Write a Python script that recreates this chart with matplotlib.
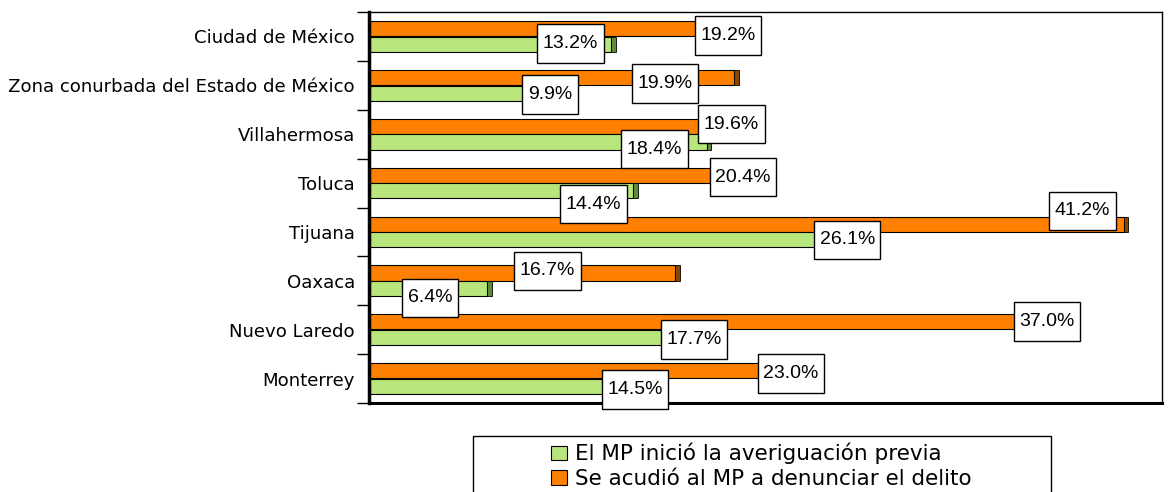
import numpy as np
import matplotlib
matplotlib.use("Agg")
import matplotlib.pyplot as plt
from matplotlib.path import Path
from matplotlib.patches import Rectangle

plt.rcParams['font.family'] = ['Liberation Sans', 'DejaVu Sans']

# data (percent), top row first
ciudades = ['Ciudad de México', 'Zona conurbada del Estado de México', 'Villahermosa',
            'Toluca', 'Tijuana', 'Oaxaca', 'Nuevo Laredo', 'Monterrey']
denuncia = [19.2, 19.9, 19.6, 20.4, 41.2, 16.7, 37.0, 23.0]
averiguacion = [13.2, 9.9, 18.4, 14.4, 26.1, 6.4, 17.7, 14.5]
serie_denuncia = 'Se acudió al MP a denunciar el delito'
serie_averiguacion = 'El MP inició la averiguación previa'

# label offsets from bar end, in pixels (dx right, dy down)
off_den = [(7, -1), (-69, -2), (3, -10), (0, -6), (-41, -21), (-128, -10), (0, -8), (0, -5)]
off_ave = [(-41, 7), (-1, 9), (-52, 15), (-40, 21), (0, 8), (-57, 17), (0, 10), (0, 11)]

c_orange = '#FF8000'
c_green = '#B8E67C'


def tall_box(x0, y0, width, height, mutation_size):
    # square box, more padding top/bottom than left/right
    px = 0.28 * mutation_size
    py = 0.55 * mutation_size
    x0, y0 = x0 - px, y0 - py
    x1, y1 = x0 + width + 2 * px, y0 + height + 2 * py
    return Path([(x0, y0), (x1, y0), (x1, y1), (x0, y1), (x0, y0)], closed=True)


fig = plt.figure(figsize=(11.74, 4.92), dpi=100)
ax = fig.add_axes([369/1174, 89/492, 793/1174, 391/492])

y = np.arange(len(ciudades))
h = 0.31
off = 0.16

ax.barh(y - off, denuncia, height=h, color=c_orange, edgecolor='black', linewidth=0.8,
        label=serie_denuncia, zorder=2)
ax.barh(y + off, averiguacion, height=h, color=c_green, edgecolor='black', linewidth=0.8,
        label=serie_averiguacion, zorder=2)
# small dark end caps (3D look)
cap = 0.25
ax.barh(y - off, cap, left=np.array(denuncia), height=h, color='#8A4500',
        edgecolor='black', linewidth=0.6, zorder=2)
ax.barh(y + off, cap, left=np.array(averiguacion), height=h, color='#5E8A3A',
        edgecolor='black', linewidth=0.6, zorder=2)

box = dict(boxstyle=tall_box, facecolor='white', edgecolor='black', linewidth=1)
for i in range(len(ciudades)):
    ax.annotate('%.1f%%' % denuncia[i], xy=(denuncia[i], y[i]),
                xytext=(off_den[i][0], -off_den[i][1]), textcoords='offset pixels',
                ha='center', va='center', fontsize=14, bbox=box, zorder=5)
    ax.annotate('%.1f%%' % averiguacion[i], xy=(averiguacion[i], y[i]),
                xytext=(off_ave[i][0], -off_ave[i][1]), textcoords='offset pixels',
                ha='center', va='center', fontsize=14, bbox=box, zorder=5)

ax.set_xlim(-0.05, 43.3)
ax.set_ylim(len(ciudades) - 0.5, -0.5)
ax.set_xticks([])
ax.set_yticks(y)
ax.set_yticklabels(ciudades, fontsize=13.05, family='DejaVu Sans')
ax.tick_params(axis='y', length=0, pad=10)
ax.set_yticks(np.arange(len(ciudades) + 1) - 0.5, minor=True)
ax.tick_params(axis='y', which='minor', length=9, width=1)

for s in ['top', 'right']:
    ax.spines[s].set_linewidth(1)
ax.spines['left'].set_linewidth(2.5)
ax.spines['bottom'].set_linewidth(2.2)

# legend frame runs past the bottom of the picture
fig.patches.append(Rectangle((473/1174, -0.2), 578/1174, 0.2 + 56/492,
                             transform=fig.transFigure, facecolor='white',
                             edgecolor='black', linewidth=1, zorder=0))
handles, labels = ax.get_legend_handles_labels()
leg = fig.legend(handles[::-1], labels[::-1], loc='upper left',
                 bbox_to_anchor=(551/1174, 1 - 443/492), frameon=False,
                 prop={'family': 'DejaVu Sans', 'size': 15.5},
                 handlelength=0.75, handleheight=0.65, handletextpad=0.35,
                 labelspacing=0.22, borderpad=0, borderaxespad=0)

fig.savefig('out.png', dpi=100)
